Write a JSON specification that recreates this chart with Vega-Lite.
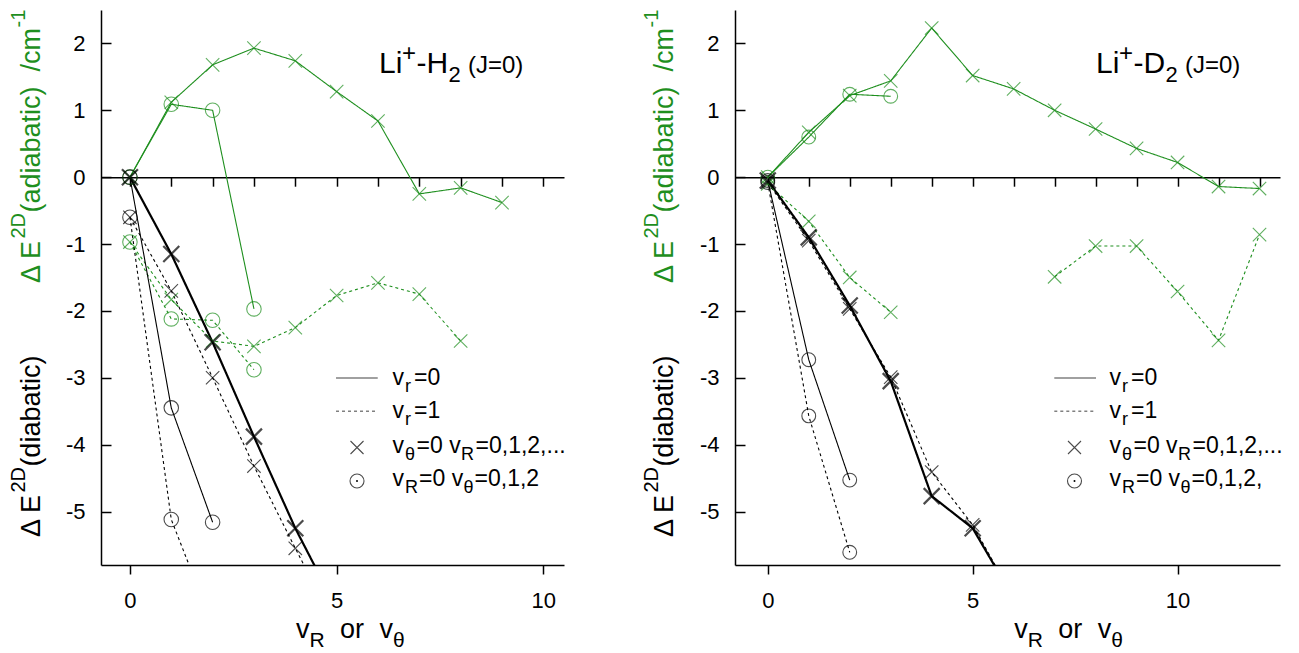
{
"$schema":"https://vega.github.io/schema/vega-lite/v6.json",
"background":"white",
"padding":{"left":8,"top":9,"right":5,"bottom":0},
"bounds":"flush",
"spacing":171,
"config":{
 "view":{"stroke":null},
 "font":"Liberation Sans",
 "axis":{"grid":false,"labelFont":"Liberation Sans","labelFontSize":22,"labelColor":"black","domainColor":"black","tickColor":"black","domainWidth":1.5,"tickWidth":1.5,"labelOverlap":false},
 "text":{"font":"Liberation Sans","align":"left","baseline":"alphabetic"}
},
"datasets":{"pts":[
{"p":"H2","t":"adiabatic","vr":0,"s":"R","x":0,"y":0},{"p":"H2","t":"adiabatic","vr":0,"s":"R","x":1,"y":1.12},{"p":"H2","t":"adiabatic","vr":0,"s":"R","x":2,"y":1.68},{"p":"H2","t":"adiabatic","vr":0,"s":"R","x":3,"y":1.93},{"p":"H2","t":"adiabatic","vr":0,"s":"R","x":4,"y":1.74},{"p":"H2","t":"adiabatic","vr":0,"s":"R","x":5,"y":1.28},{"p":"H2","t":"adiabatic","vr":0,"s":"R","x":6,"y":0.84},{"p":"H2","t":"adiabatic","vr":0,"s":"R","x":7,"y":-0.25},{"p":"H2","t":"adiabatic","vr":0,"s":"R","x":8,"y":-0.16},{"p":"H2","t":"adiabatic","vr":0,"s":"R","x":9,"y":-0.38},
{"p":"H2","t":"adiabatic","vr":0,"s":"th","x":0,"y":0},{"p":"H2","t":"adiabatic","vr":0,"s":"th","x":1,"y":1.09},{"p":"H2","t":"adiabatic","vr":0,"s":"th","x":2,"y":1.0},{"p":"H2","t":"adiabatic","vr":0,"s":"th","x":3,"y":-1.97},
{"p":"H2","t":"adiabatic","vr":1,"s":"R","x":0,"y":-0.97},{"p":"H2","t":"adiabatic","vr":1,"s":"R","x":1,"y":-1.83},{"p":"H2","t":"adiabatic","vr":1,"s":"R","x":2,"y":-2.45},{"p":"H2","t":"adiabatic","vr":1,"s":"R","x":3,"y":-2.53},{"p":"H2","t":"adiabatic","vr":1,"s":"R","x":4,"y":-2.25},{"p":"H2","t":"adiabatic","vr":1,"s":"R","x":5,"y":-1.77},{"p":"H2","t":"adiabatic","vr":1,"s":"R","x":6,"y":-1.58},{"p":"H2","t":"adiabatic","vr":1,"s":"R","x":7,"y":-1.75},{"p":"H2","t":"adiabatic","vr":1,"s":"R","x":8,"y":-2.45},
{"p":"H2","t":"adiabatic","vr":1,"s":"th","x":0,"y":-0.97},{"p":"H2","t":"adiabatic","vr":1,"s":"th","x":1,"y":-2.12},{"p":"H2","t":"adiabatic","vr":1,"s":"th","x":2,"y":-2.14},{"p":"H2","t":"adiabatic","vr":1,"s":"th","x":3,"y":-2.88},
{"p":"H2","t":"diabatic","vr":0,"s":"R","x":0,"y":0},{"p":"H2","t":"diabatic","vr":0,"s":"R","x":1,"y":-1.15},{"p":"H2","t":"diabatic","vr":0,"s":"R","x":2,"y":-2.47},{"p":"H2","t":"diabatic","vr":0,"s":"R","x":3,"y":-3.88},{"p":"H2","t":"diabatic","vr":0,"s":"R","x":4,"y":-5.25},{"p":"H2","t":"diabatic","vr":0,"s":"R","x":5,"y":-6.45},
{"p":"H2","t":"diabatic","vr":1,"s":"R","x":0,"y":-0.6},{"p":"H2","t":"diabatic","vr":1,"s":"R","x":1,"y":-1.7},{"p":"H2","t":"diabatic","vr":1,"s":"R","x":2,"y":-3.0},{"p":"H2","t":"diabatic","vr":1,"s":"R","x":3,"y":-4.32},{"p":"H2","t":"diabatic","vr":1,"s":"R","x":4,"y":-5.55},{"p":"H2","t":"diabatic","vr":1,"s":"R","x":5,"y":-6.75},
{"p":"H2","t":"diabatic","vr":0,"s":"th","x":0,"y":0},{"p":"H2","t":"diabatic","vr":0,"s":"th","x":1,"y":-3.45},{"p":"H2","t":"diabatic","vr":0,"s":"th","x":2,"y":-5.16},
{"p":"H2","t":"diabatic","vr":1,"s":"th","x":0,"y":-0.6},{"p":"H2","t":"diabatic","vr":1,"s":"th","x":1,"y":-5.12},{"p":"H2","t":"diabatic","vr":1,"s":"th","x":2,"y":-6.7},
{"p":"D2","t":"adiabatic","vr":0,"s":"R","x":0,"y":0},{"p":"D2","t":"adiabatic","vr":0,"s":"R","x":1,"y":0.67},{"p":"D2","t":"adiabatic","vr":0,"s":"R","x":2,"y":1.22},{"p":"D2","t":"adiabatic","vr":0,"s":"R","x":3,"y":1.44},{"p":"D2","t":"adiabatic","vr":0,"s":"R","x":4,"y":2.23},{"p":"D2","t":"adiabatic","vr":0,"s":"R","x":5,"y":1.52},{"p":"D2","t":"adiabatic","vr":0,"s":"R","x":6,"y":1.32},{"p":"D2","t":"adiabatic","vr":0,"s":"R","x":7,"y":1.0},{"p":"D2","t":"adiabatic","vr":0,"s":"R","x":8,"y":0.72},{"p":"D2","t":"adiabatic","vr":0,"s":"R","x":9,"y":0.43},{"p":"D2","t":"adiabatic","vr":0,"s":"R","x":10,"y":0.22},{"p":"D2","t":"adiabatic","vr":0,"s":"R","x":11,"y":-0.14},{"p":"D2","t":"adiabatic","vr":0,"s":"R","x":12,"y":-0.17},
{"p":"D2","t":"adiabatic","vr":0,"s":"th","x":0,"y":0},{"p":"D2","t":"adiabatic","vr":0,"s":"th","x":1,"y":0.6},{"p":"D2","t":"adiabatic","vr":0,"s":"th","x":2,"y":1.24},{"p":"D2","t":"adiabatic","vr":0,"s":"th","x":3,"y":1.21},
{"p":"D2","t":"adiabatic","vr":1,"s":"R","seg":"a","x":0,"y":-0.1},{"p":"D2","t":"adiabatic","vr":1,"s":"R","seg":"a","x":1,"y":-0.66},{"p":"D2","t":"adiabatic","vr":1,"s":"R","seg":"a","x":2,"y":-1.5},{"p":"D2","t":"adiabatic","vr":1,"s":"R","seg":"a","x":3,"y":-2.02},
{"p":"D2","t":"adiabatic","vr":1,"s":"R","seg":"b","x":7,"y":-1.49},{"p":"D2","t":"adiabatic","vr":1,"s":"R","seg":"b","x":8,"y":-1.03},{"p":"D2","t":"adiabatic","vr":1,"s":"R","seg":"b","x":9,"y":-1.03},{"p":"D2","t":"adiabatic","vr":1,"s":"R","seg":"b","x":10,"y":-1.71},{"p":"D2","t":"adiabatic","vr":1,"s":"R","seg":"b","x":11,"y":-2.44},{"p":"D2","t":"adiabatic","vr":1,"s":"R","seg":"b","x":12,"y":-0.86},
{"p":"D2","t":"diabatic","vr":0,"s":"R","x":0,"y":-0.05},{"p":"D2","t":"diabatic","vr":0,"s":"R","x":1,"y":-0.9},{"p":"D2","t":"diabatic","vr":0,"s":"R","x":2,"y":-1.92},{"p":"D2","t":"diabatic","vr":0,"s":"R","x":3,"y":-3.05},{"p":"D2","t":"diabatic","vr":0,"s":"R","x":4,"y":-4.77},{"p":"D2","t":"diabatic","vr":0,"s":"R","x":5,"y":-5.25},{"p":"D2","t":"diabatic","vr":0,"s":"R","x":6,"y":-6.3},
{"p":"D2","t":"diabatic","vr":1,"s":"R","x":0,"y":-0.08},{"p":"D2","t":"diabatic","vr":1,"s":"R","x":1,"y":-0.95},{"p":"D2","t":"diabatic","vr":1,"s":"R","x":2,"y":-1.97},{"p":"D2","t":"diabatic","vr":1,"s":"R","x":3,"y":-2.99},{"p":"D2","t":"diabatic","vr":1,"s":"R","x":4,"y":-4.41},{"p":"D2","t":"diabatic","vr":1,"s":"R","x":5,"y":-5.2},{"p":"D2","t":"diabatic","vr":1,"s":"R","x":6,"y":-6.3},
{"p":"D2","t":"diabatic","vr":0,"s":"th","x":0,"y":-0.05},{"p":"D2","t":"diabatic","vr":0,"s":"th","x":1,"y":-2.73},{"p":"D2","t":"diabatic","vr":0,"s":"th","x":2,"y":-4.53},
{"p":"D2","t":"diabatic","vr":1,"s":"th","x":0,"y":-0.08},{"p":"D2","t":"diabatic","vr":1,"s":"th","x":1,"y":-3.57},{"p":"D2","t":"diabatic","vr":1,"s":"th","x":2,"y":-5.61}
]},
"hconcat":[
{"width":463,"height":555,
 "resolve":{"axis":{"x":"independent"}},
 "layer":[
  {"data":{"name":"pts"},"transform":[{"filter":"datum.p=='H2'"}],
   "mark":{"type":"line","clip":true},
   "encoding":{
    "x":{"field":"x","type":"quantitative","scale":{"domain":[-0.7,10.5],"nice":false,"zero":false},"axis":{"orient":"bottom","values":[0,5,10],"title":null,"tickSize":9,"labelPadding":16,"labelExpr":"''+datum.value"}},
    "y":{"field":"y","type":"quantitative","scale":{"domain":[-5.8,2.5],"nice":false,"zero":false},"axis":{"values":[-5,-4,-3,-2,-1,0,1,2],"title":null,"tickSize":-10,"labelPadding":26,"labelExpr":"''+datum.value"}},
    "color":{"field":"t","type":"nominal","scale":{"domain":["adiabatic","diabatic"],"range":["#1e8f1e","#000000"]},"legend":null},
    "strokeDash":{"field":"vr","type":"nominal","scale":{"domain":[0,1],"range":[[1,0],[3,3]]},"legend":null},
    "strokeWidth":{"condition":{"test":"datum.t=='diabatic' && datum.vr==0 && datum.s=='R'","value":2.2},"value":1.1},
    "detail":[{"field":"s"},{"field":"seg"}],
    "order":{"field":"x","type":"quantitative"}
   }},
  {"data":{"name":"pts"},"transform":[{"filter":"datum.p=='H2'"}],
   "mark":{"type":"point","filled":false,"clip":true},
   "encoding":{
    "x":{"field":"x","type":"quantitative","axis":{"orient":"top","offset":-167.2,"values":[0,1,2,3,4,5,6,7,8,9,10],"labels":false,"tickSize":-9,"title":null}},
    "y":{"field":"y","type":"quantitative"},
    "color":{"field":"t","type":"nominal","scale":{"domain":["adiabatic","diabatic"],"range":["#1e8f1e","#000000"]},"legend":null},
    "shape":{"field":"s","type":"nominal","scale":{"domain":["R","th"],"range":["M-1,-1L1,1M-1,1L1,-1","circle"]},"legend":null},
    "size":{"condition":[{"test":"datum.t=='diabatic' && datum.vr==0 && datum.s=='R'","value":256},{"test":"datum.s=='th'","value":210}],"value":180},
    "strokeWidth":{"condition":{"test":"datum.t=='diabatic' && datum.vr==0 && datum.s=='R'","value":2.2},"value":1.1}
   }},
  {"data":{"values":[{}]},"mark":{"type":"rule","color":"#808080","strokeWidth":1.5},"encoding":{"x":{"datum":4.985,"axis":null},"x2":{"datum":5.994},"y":{"datum":-3.003}}},
  {"data":{"values":[{}]},"mark":{"type":"rule","color":"#808080","strokeWidth":1.5,"strokeDash":[3,3]},"encoding":{"x":{"datum":4.985,"axis":null},"x2":{"datum":5.994},"y":{"datum":-3.501}}},
  {"data":{"values":[{}]},"mark":{"type":"point","shape":"M-1,-1L1,1M-1,1L1,-1","size":169,"filled":false,"color":"black","strokeWidth":1.1},"encoding":{"x":{"datum":5.493,"axis":null},"y":{"datum":-4.043}}},
  {"data":{"values":[{}]},"mark":{"type":"point","shape":"circle","size":196,"filled":false,"color":"black","strokeWidth":1.1},"encoding":{"x":{"datum":5.493,"axis":null},"y":{"datum":-4.544}}},
  {"data":{"values":[{}]},"mark":{"type":"point","shape":"circle","size":4,"filled":true,"color":"black","opacity":1},"encoding":{"x":{"datum":5.493,"axis":null},"y":{"datum":-4.544}}},
  {"data":{"values":[{}]},"mark":{"type":"text","text":"v","fontSize":23},"encoding":{"x":{"datum":6.352,"axis":null},"y":{"datum":-3.101}}},
  {"data":{"values":[{}]},"mark":{"type":"text","text":"r","fontSize":18,"dx":12.5,"dy":7},"encoding":{"x":{"datum":6.352,"axis":null},"y":{"datum":-3.101}}},
  {"data":{"values":[{}]},"mark":{"type":"text","text":"=0","fontSize":23,"dx":21.5},"encoding":{"x":{"datum":6.352,"axis":null},"y":{"datum":-3.101}}},
  {"data":{"values":[{}]},"mark":{"type":"text","text":"v","fontSize":23},"encoding":{"x":{"datum":6.352,"axis":null},"y":{"datum":-3.602}}},
  {"data":{"values":[{}]},"mark":{"type":"text","text":"r","fontSize":18,"dx":12.5,"dy":7},"encoding":{"x":{"datum":6.352,"axis":null},"y":{"datum":-3.602}}},
  {"data":{"values":[{}]},"mark":{"type":"text","text":"=1","fontSize":23,"dx":21.5},"encoding":{"x":{"datum":6.352,"axis":null},"y":{"datum":-3.602}}},
  {"data":{"values":[{}]},"mark":{"type":"text","text":"v","fontSize":23},"encoding":{"x":{"datum":6.352,"axis":null},"y":{"datum":-4.118}}},
  {"data":{"values":[{}]},"mark":{"type":"text","text":"θ","fontSize":18,"dx":12.5,"dy":7},"encoding":{"x":{"datum":6.352,"axis":null},"y":{"datum":-4.118}}},
  {"data":{"values":[{}]},"mark":{"type":"text","text":"=0 v","fontSize":23,"dx":24},"encoding":{"x":{"datum":6.352,"axis":null},"y":{"datum":-4.118}}},
  {"data":{"values":[{}]},"mark":{"type":"text","text":"R","fontSize":18,"dx":68.5,"dy":7},"encoding":{"x":{"datum":6.352,"axis":null},"y":{"datum":-4.118}}},
  {"data":{"values":[{}]},"mark":{"type":"text","text":"=0,1,2,...","fontSize":23,"dx":83},"encoding":{"x":{"datum":6.352,"axis":null},"y":{"datum":-4.118}}},
  {"data":{"values":[{}]},"mark":{"type":"text","text":"v","fontSize":23},"encoding":{"x":{"datum":6.352,"axis":null},"y":{"datum":-4.626}}},
  {"data":{"values":[{}]},"mark":{"type":"text","text":"R","fontSize":18,"dx":12.5,"dy":7},"encoding":{"x":{"datum":6.352,"axis":null},"y":{"datum":-4.626}}},
  {"data":{"values":[{}]},"mark":{"type":"text","text":"=0 v","fontSize":23,"dx":26.5},"encoding":{"x":{"datum":6.352,"axis":null},"y":{"datum":-4.626}}},
  {"data":{"values":[{}]},"mark":{"type":"text","text":"θ","fontSize":18,"dx":71,"dy":7},"encoding":{"x":{"datum":6.352,"axis":null},"y":{"datum":-4.626}}},
  {"data":{"values":[{}]},"mark":{"type":"text","text":"=0,1,2","fontSize":23,"dx":82},"encoding":{"x":{"datum":6.352,"axis":null},"y":{"datum":-4.626}}},
  {"data":{"values":[{}]},"mark":{"type":"text","text":"Li","fontSize":30},"encoding":{"x":{"datum":6.025,"axis":null},"y":{"datum":1.553}}},
  {"data":{"values":[{}]},"mark":{"type":"text","text":"+","fontSize":24,"dx":23,"dy":-12},"encoding":{"x":{"datum":6.025,"axis":null},"y":{"datum":1.553}}},
  {"data":{"values":[{}]},"mark":{"type":"text","text":"-H","fontSize":30,"dx":37.5},"encoding":{"x":{"datum":6.025,"axis":null},"y":{"datum":1.553}}},
  {"data":{"values":[{}]},"mark":{"type":"text","text":"2","fontSize":22,"dx":69.5,"dy":9},"encoding":{"x":{"datum":6.025,"axis":null},"y":{"datum":1.553}}},
  {"data":{"values":[{}]},"mark":{"type":"text","text":"(J=0)","fontSize":24,"dx":89},"encoding":{"x":{"datum":6.025,"axis":null},"y":{"datum":1.553}}},
  {"data":{"values":[{}]},"mark":{"type":"text","text":"v","fontSize":27},"encoding":{"x":{"datum":4.017,"axis":null},"y":{"datum":-6.892}}},
  {"data":{"values":[{}]},"mark":{"type":"text","text":"R","fontSize":21,"dx":13.5,"dy":9},"encoding":{"x":{"datum":4.017,"axis":null},"y":{"datum":-6.892}}},
  {"data":{"values":[{}]},"mark":{"type":"text","text":"or","fontSize":27,"dx":44},"encoding":{"x":{"datum":4.017,"axis":null},"y":{"datum":-6.892}}},
  {"data":{"values":[{}]},"mark":{"type":"text","text":"v","fontSize":27,"dx":83.5},"encoding":{"x":{"datum":4.017,"axis":null},"y":{"datum":-6.892}}},
  {"data":{"values":[{}]},"mark":{"type":"text","text":"θ","fontSize":21,"dx":97,"dy":9},"encoding":{"x":{"datum":4.017,"axis":null},"y":{"datum":-6.892}}},
  {"data":{"values":[{}]},"mark":{"type":"text","text":"Δ E","fontSize":27,"angle":270,"color":"#1e8f1e"},"encoding":{"x":{"datum":-2.176,"axis":null},"y":{"datum":-1.583}}},
  {"data":{"values":[{}]},"mark":{"type":"text","text":"2D","fontSize":20,"angle":270,"dx":44.5,"dy":-15,"color":"#1e8f1e"},"encoding":{"x":{"datum":-2.176,"axis":null},"y":{"datum":-1.583}}},
  {"data":{"values":[{}]},"mark":{"type":"text","text":"(adiabatic)\u00a0\u00a0/cm","fontSize":27,"angle":270,"dx":70.5,"color":"#1e8f1e"},"encoding":{"x":{"datum":-2.176,"axis":null},"y":{"datum":-1.583}}},
  {"data":{"values":[{}]},"mark":{"type":"text","text":"-1","fontSize":20,"angle":270,"dx":255.5,"dy":-15,"color":"#1e8f1e"},"encoding":{"x":{"datum":-2.176,"axis":null},"y":{"datum":-1.583}}},
  {"data":{"values":[{}]},"mark":{"type":"text","text":"Δ E","fontSize":27,"angle":270},"encoding":{"x":{"datum":-2.176,"axis":null},"y":{"datum":-5.383}}},
  {"data":{"values":[{}]},"mark":{"type":"text","text":"2D","fontSize":20,"angle":270,"dx":44.5,"dy":-15},"encoding":{"x":{"datum":-2.176,"axis":null},"y":{"datum":-5.383}}},
  {"data":{"values":[{}]},"mark":{"type":"text","text":"(diabatic)","fontSize":27,"angle":270,"dx":70.5},"encoding":{"x":{"datum":-2.176,"axis":null},"y":{"datum":-5.383}}}
 ]},
{"width":545,"height":555,
 "resolve":{"axis":{"x":"independent"}},
 "layer":[
  {"data":{"name":"pts"},"transform":[{"filter":"datum.p=='D2'"}],
   "mark":{"type":"line","clip":true},
   "encoding":{
    "x":{"field":"x","type":"quantitative","scale":{"domain":[-0.8,12.5],"nice":false,"zero":false},"axis":{"orient":"bottom","values":[0,5,10],"title":null,"tickSize":9,"labelPadding":16,"labelExpr":"''+datum.value"}},
    "y":{"field":"y","type":"quantitative","scale":{"domain":[-5.8,2.5],"nice":false,"zero":false},"axis":{"values":[-5,-4,-3,-2,-1,0,1,2],"title":null,"tickSize":-10,"labelPadding":26,"labelExpr":"''+datum.value"}},
    "color":{"field":"t","type":"nominal","scale":{"domain":["adiabatic","diabatic"],"range":["#1e8f1e","#000000"]},"legend":null},
    "strokeDash":{"field":"vr","type":"nominal","scale":{"domain":[0,1],"range":[[1,0],[3,3]]},"legend":null},
    "strokeWidth":{"condition":{"test":"datum.t=='diabatic' && datum.vr==0 && datum.s=='R'","value":2.2},"value":1.1},
    "detail":[{"field":"s"},{"field":"seg"}],
    "order":{"field":"x","type":"quantitative"}
   }},
  {"data":{"name":"pts"},"transform":[{"filter":"datum.p=='D2'"}],
   "mark":{"type":"point","filled":false,"clip":true},
   "encoding":{
    "x":{"field":"x","type":"quantitative","axis":{"orient":"top","offset":-167.2,"values":[0,1,2,3,4,5,6,7,8,9,10,11,12],"labels":false,"tickSize":-9,"title":null}},
    "y":{"field":"y","type":"quantitative"},
    "color":{"field":"t","type":"nominal","scale":{"domain":["adiabatic","diabatic"],"range":["#1e8f1e","#000000"]},"legend":null},
    "shape":{"field":"s","type":"nominal","scale":{"domain":["R","th"],"range":["M-1,-1L1,1M-1,1L1,-1","circle"]},"legend":null},
    "size":{"condition":[{"test":"datum.t=='diabatic' && datum.vr==0 && datum.s=='R'","value":256},{"test":"datum.s=='th'","value":190}],"value":180},
    "strokeWidth":{"condition":{"test":"datum.t=='diabatic' && datum.vr==0 && datum.s=='R'","value":2.2},"value":1.1}
   }},
  {"data":{"values":[{}]},"mark":{"type":"rule","color":"#808080","strokeWidth":1.5},"encoding":{"x":{"datum":6.992,"axis":null},"x2":{"datum":8.010},"y":{"datum":-3.003}}},
  {"data":{"values":[{}]},"mark":{"type":"rule","color":"#808080","strokeWidth":1.5,"strokeDash":[3,3]},"encoding":{"x":{"datum":6.992,"axis":null},"x2":{"datum":8.010},"y":{"datum":-3.501}}},
  {"data":{"values":[{}]},"mark":{"type":"point","shape":"M-1,-1L1,1M-1,1L1,-1","size":169,"filled":false,"color":"black","strokeWidth":1.1},"encoding":{"x":{"datum":7.485,"axis":null},"y":{"datum":-4.043}}},
  {"data":{"values":[{}]},"mark":{"type":"point","shape":"circle","size":196,"filled":false,"color":"black","strokeWidth":1.1},"encoding":{"x":{"datum":7.485,"axis":null},"y":{"datum":-4.544}}},
  {"data":{"values":[{}]},"mark":{"type":"point","shape":"circle","size":4,"filled":true,"color":"black","opacity":1},"encoding":{"x":{"datum":7.485,"axis":null},"y":{"datum":-4.544}}},
  {"data":{"values":[{}]},"mark":{"type":"text","text":"v","fontSize":23},"encoding":{"x":{"datum":8.339,"axis":null},"y":{"datum":-3.101}}},
  {"data":{"values":[{}]},"mark":{"type":"text","text":"r","fontSize":18,"dx":12.5,"dy":7},"encoding":{"x":{"datum":8.339,"axis":null},"y":{"datum":-3.101}}},
  {"data":{"values":[{}]},"mark":{"type":"text","text":"=0","fontSize":23,"dx":21.5},"encoding":{"x":{"datum":8.339,"axis":null},"y":{"datum":-3.101}}},
  {"data":{"values":[{}]},"mark":{"type":"text","text":"v","fontSize":23},"encoding":{"x":{"datum":8.339,"axis":null},"y":{"datum":-3.602}}},
  {"data":{"values":[{}]},"mark":{"type":"text","text":"r","fontSize":18,"dx":12.5,"dy":7},"encoding":{"x":{"datum":8.339,"axis":null},"y":{"datum":-3.602}}},
  {"data":{"values":[{}]},"mark":{"type":"text","text":"=1","fontSize":23,"dx":21.5},"encoding":{"x":{"datum":8.339,"axis":null},"y":{"datum":-3.602}}},
  {"data":{"values":[{}]},"mark":{"type":"text","text":"v","fontSize":23},"encoding":{"x":{"datum":8.339,"axis":null},"y":{"datum":-4.118}}},
  {"data":{"values":[{}]},"mark":{"type":"text","text":"θ","fontSize":18,"dx":12.5,"dy":7},"encoding":{"x":{"datum":8.339,"axis":null},"y":{"datum":-4.118}}},
  {"data":{"values":[{}]},"mark":{"type":"text","text":"=0 v","fontSize":23,"dx":24},"encoding":{"x":{"datum":8.339,"axis":null},"y":{"datum":-4.118}}},
  {"data":{"values":[{}]},"mark":{"type":"text","text":"R","fontSize":18,"dx":68.5,"dy":7},"encoding":{"x":{"datum":8.339,"axis":null},"y":{"datum":-4.118}}},
  {"data":{"values":[{}]},"mark":{"type":"text","text":"=0,1,2,...","fontSize":23,"dx":83},"encoding":{"x":{"datum":8.339,"axis":null},"y":{"datum":-4.118}}},
  {"data":{"values":[{}]},"mark":{"type":"text","text":"v","fontSize":23},"encoding":{"x":{"datum":8.339,"axis":null},"y":{"datum":-4.626}}},
  {"data":{"values":[{}]},"mark":{"type":"text","text":"R","fontSize":18,"dx":12.5,"dy":7},"encoding":{"x":{"datum":8.339,"axis":null},"y":{"datum":-4.626}}},
  {"data":{"values":[{}]},"mark":{"type":"text","text":"=0 v","fontSize":23,"dx":26.5},"encoding":{"x":{"datum":8.339,"axis":null},"y":{"datum":-4.626}}},
  {"data":{"values":[{}]},"mark":{"type":"text","text":"θ","fontSize":18,"dx":71,"dy":7},"encoding":{"x":{"datum":8.339,"axis":null},"y":{"datum":-4.626}}},
  {"data":{"values":[{}]},"mark":{"type":"text","text":"=0,1,2,","fontSize":23,"dx":82},"encoding":{"x":{"datum":8.339,"axis":null},"y":{"datum":-4.626}}},
  {"data":{"values":[{}]},"mark":{"type":"text","text":"Li","fontSize":30},"encoding":{"x":{"datum":8.010,"axis":null},"y":{"datum":1.553}}},
  {"data":{"values":[{}]},"mark":{"type":"text","text":"+","fontSize":24,"dx":23,"dy":-12},"encoding":{"x":{"datum":8.010,"axis":null},"y":{"datum":1.553}}},
  {"data":{"values":[{}]},"mark":{"type":"text","text":"-D","fontSize":30,"dx":37.5},"encoding":{"x":{"datum":8.010,"axis":null},"y":{"datum":1.553}}},
  {"data":{"values":[{}]},"mark":{"type":"text","text":"2","fontSize":22,"dx":69.5,"dy":9},"encoding":{"x":{"datum":8.010,"axis":null},"y":{"datum":1.553}}},
  {"data":{"values":[{}]},"mark":{"type":"text","text":"(J=0)","fontSize":24,"dx":89},"encoding":{"x":{"datum":8.010,"axis":null},"y":{"datum":1.553}}},
  {"data":{"values":[{}]},"mark":{"type":"text","text":"v","fontSize":27},"encoding":{"x":{"datum":6.016,"axis":null},"y":{"datum":-6.892}}},
  {"data":{"values":[{}]},"mark":{"type":"text","text":"R","fontSize":21,"dx":13.5,"dy":9},"encoding":{"x":{"datum":6.016,"axis":null},"y":{"datum":-6.892}}},
  {"data":{"values":[{}]},"mark":{"type":"text","text":"or","fontSize":27,"dx":44},"encoding":{"x":{"datum":6.016,"axis":null},"y":{"datum":-6.892}}},
  {"data":{"values":[{}]},"mark":{"type":"text","text":"v","fontSize":27,"dx":83.5},"encoding":{"x":{"datum":6.016,"axis":null},"y":{"datum":-6.892}}},
  {"data":{"values":[{}]},"mark":{"type":"text","text":"θ","fontSize":21,"dx":97,"dy":9},"encoding":{"x":{"datum":6.016,"axis":null},"y":{"datum":-6.892}}},
  {"data":{"values":[{}]},"mark":{"type":"text","text":"Δ E","fontSize":27,"angle":270,"color":"#1e8f1e"},"encoding":{"x":{"datum":-2.303,"axis":null},"y":{"datum":-1.583}}},
  {"data":{"values":[{}]},"mark":{"type":"text","text":"2D","fontSize":20,"angle":270,"dx":44.5,"dy":-15,"color":"#1e8f1e"},"encoding":{"x":{"datum":-2.303,"axis":null},"y":{"datum":-1.583}}},
  {"data":{"values":[{}]},"mark":{"type":"text","text":"(adiabatic)\u00a0\u00a0/cm","fontSize":27,"angle":270,"dx":70.5,"color":"#1e8f1e"},"encoding":{"x":{"datum":-2.303,"axis":null},"y":{"datum":-1.583}}},
  {"data":{"values":[{}]},"mark":{"type":"text","text":"-1","fontSize":20,"angle":270,"dx":255.5,"dy":-15,"color":"#1e8f1e"},"encoding":{"x":{"datum":-2.303,"axis":null},"y":{"datum":-1.583}}},
  {"data":{"values":[{}]},"mark":{"type":"text","text":"Δ E","fontSize":27,"angle":270},"encoding":{"x":{"datum":-2.303,"axis":null},"y":{"datum":-5.383}}},
  {"data":{"values":[{}]},"mark":{"type":"text","text":"2D","fontSize":20,"angle":270,"dx":44.5,"dy":-15},"encoding":{"x":{"datum":-2.303,"axis":null},"y":{"datum":-5.383}}},
  {"data":{"values":[{}]},"mark":{"type":"text","text":"(diabatic)","fontSize":27,"angle":270,"dx":70.5},"encoding":{"x":{"datum":-2.303,"axis":null},"y":{"datum":-5.383}}}
 ]}
]
}
